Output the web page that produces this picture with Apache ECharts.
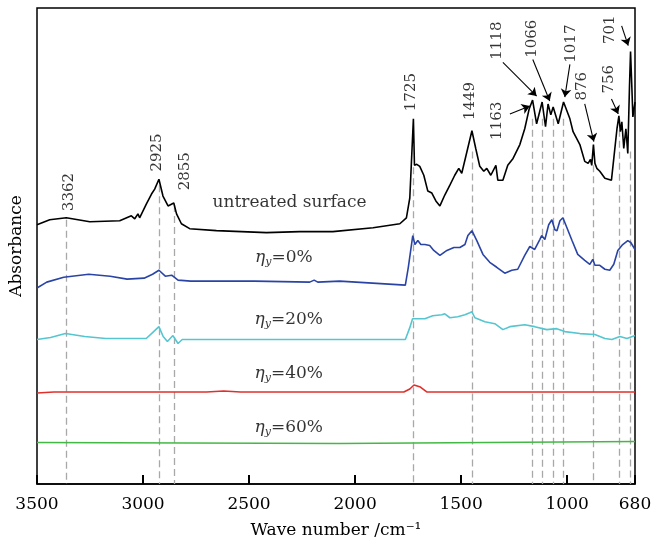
<!DOCTYPE html>
<html>
<head>
<meta charset="utf-8">
<script src="https://cdn.jsdelivr.net/npm/echarts@6/dist/echarts.min.js"></script>
<style>
  html, body { margin: 0; padding: 0; background: #fff; }
  #chart { width: 665px; height: 544px; }
</style>
</head>
<body>
<div id="chart"></div>
<script>
// wave number (cm^-1) vs absorbance (offset, a.u.)
var untreated = [
  [3500, 2.62], [3440, 2.67], [3362, 2.69], [3251, 2.65], [3110, 2.66], [3077, 2.69],
  [3055, 2.71], [3039, 2.68], [3024, 2.73], [3016, 2.69], [2984, 2.83], [2960, 2.93],
  [2945, 2.98], [2925, 3.08], [2906, 2.91], [2882, 2.81], [2855, 2.84], [2842, 2.73],
  [2819, 2.63], [2780, 2.58], [2654, 2.56], [2418, 2.54], [2261, 2.55], [2105, 2.55],
  [1915, 2.59], [1789, 2.63], [1758, 2.69], [1742, 2.89], [1725, 3.69], [1720, 3.22],
  [1709, 3.23], [1695, 3.21], [1676, 3.12], [1657, 2.96], [1638, 2.94], [1619, 2.86],
  [1600, 2.81], [1577, 2.92], [1553, 3.02], [1530, 3.12], [1511, 3.19], [1497, 3.14],
  [1478, 3.31], [1449, 3.57], [1431, 3.39], [1412, 3.21], [1393, 3.16], [1379, 3.19],
  [1360, 3.12], [1336, 3.22], [1327, 3.07], [1303, 3.07], [1280, 3.22], [1255, 3.29],
  [1223, 3.43], [1200, 3.59], [1179, 3.79], [1163, 3.88], [1144, 3.64], [1118, 3.86],
  [1102, 3.61], [1090, 3.84], [1077, 3.73], [1066, 3.81], [1042, 3.64], [1017, 3.86],
  [987, 3.69], [972, 3.56], [940, 3.43], [917, 3.26], [901, 3.24], [890, 3.28],
  [884, 3.22], [876, 3.43], [869, 3.24], [860, 3.19], [846, 3.16], [822, 3.09],
  [791, 3.07], [780, 3.29], [765, 3.59], [756, 3.72], [749, 3.56], [742, 3.66],
  [733, 3.39], [723, 3.59], [714, 3.34], [706, 4.02], [701, 4.37], [695, 4.02],
  [690, 3.71], [680, 3.86]
];
var eta0 = [
  [3500, 1.98], [3454, 2.04], [3374, 2.09], [3256, 2.12], [3155, 2.10], [3075, 2.07],
  [2995, 2.08], [2955, 2.12], [2925, 2.16], [2895, 2.10], [2865, 2.11], [2835, 2.06],
  [2775, 2.05], [2474, 2.05], [2214, 2.04], [2193, 2.06], [2176, 2.04], [2073, 2.05],
  [1763, 2.01], [1749, 2.19], [1728, 2.51], [1718, 2.42], [1704, 2.46], [1690, 2.42],
  [1671, 2.42], [1648, 2.41], [1629, 2.36], [1600, 2.31], [1567, 2.36], [1534, 2.39],
  [1506, 2.39], [1482, 2.42], [1468, 2.51], [1449, 2.56], [1426, 2.46], [1397, 2.32],
  [1365, 2.24], [1332, 2.19], [1294, 2.13], [1261, 2.16], [1233, 2.17], [1200, 2.31],
  [1176, 2.40], [1153, 2.37], [1129, 2.47], [1120, 2.51], [1105, 2.47], [1087, 2.62],
  [1072, 2.67], [1058, 2.57], [1048, 2.56], [1034, 2.66], [1020, 2.69], [1001, 2.59],
  [977, 2.46], [950, 2.32], [917, 2.26], [893, 2.22], [879, 2.27], [869, 2.21],
  [846, 2.21], [822, 2.17], [799, 2.16], [780, 2.22], [761, 2.36], [738, 2.42],
  [714, 2.46], [700, 2.44], [680, 2.37]
];
var eta20 = [
  [3500, 1.46], [3436, 1.48], [3366, 1.52], [3275, 1.49], [3176, 1.47], [2985, 1.47],
  [2955, 1.53], [2925, 1.59], [2905, 1.49], [2885, 1.44], [2859, 1.50], [2835, 1.42],
  [2815, 1.46], [2474, 1.46], [1763, 1.46], [1742, 1.58], [1729, 1.67], [1671, 1.67],
  [1634, 1.70], [1591, 1.71], [1577, 1.72], [1553, 1.68], [1516, 1.69], [1482, 1.71],
  [1459, 1.73], [1449, 1.74], [1435, 1.68], [1388, 1.64], [1341, 1.62], [1303, 1.56],
  [1270, 1.59], [1200, 1.61], [1153, 1.59], [1096, 1.56], [1049, 1.57], [1011, 1.54],
  [940, 1.52], [869, 1.51], [822, 1.47], [789, 1.46], [751, 1.49], [718, 1.47],
  [680, 1.50]
];
var eta40 = [
  [3500, 0.92], [3420, 0.93], [2700, 0.93], [2620, 0.94], [2540, 0.93], [1770, 0.93],
  [1742, 0.96], [1722, 1.00], [1692, 0.98], [1662, 0.93], [680, 0.93]
];
var eta60 = [
  [3500, 0.42], [2073, 0.41], [680, 0.43]
];

// assigned bands: wave number, top of the dashed guide
var bandPeaks = [3362, 2925, 2855, 1725, 1449, 1163, 1118, 1066, 1017, 876, 756, 701];
var bandTops = [2.67, 3.02, 2.82, 3.20, 3.36, 3.69, 3.69, 3.69, 3.69, 3.22, 3.69, 3.36];

// label centres for the band numbers
var bandLabels = [
  [3350, 2.95, '3362'], [2933, 3.35, '2925'], [2803, 3.16, '2855'], [1734, 3.96, '1725'],
  [1459, 3.87, '1449'], [1329, 3.67, '1163'], [1329, 4.48, '1118'], [1164, 4.50, '1066'],
  [979, 4.45, '1017'], [928, 4.02, '876'], [803, 4.09, '756'], [799, 4.59, '701']
];
// arrows: from label to peak
var arrows = [
  [[1270, 3.74], [1176, 3.82]],
  [[1303, 4.26], [1144, 3.92]],
  [[1162, 4.29], [1082, 3.87]],
  [[987, 4.24], [1011, 3.91]],
  [[917, 3.84], [874, 3.46]],
  [[791, 3.89], [759, 3.74]],
  [[743, 4.63], [712, 4.43]]
];

var curveNames = ['untreated surface', '0%', '20%', '40%', '60%'];
var curveLabelPos = [[2309, 2.84], [2336, 2.29], [2313, 1.66], [2313, 1.12], [2313, 0.57]];

var serif = 'DejaVu Serif';
var chart = echarts.init(document.getElementById('chart'));

function curve(name, data, color) {
  return {
    name: name, type: 'line', data: data, showSymbol: false, z: 3,
    lineStyle: { color: color, width: 1.6 }
  };
}

var option = {
  animation: false,
  backgroundColor: '#fff',
  grid: {
    left: 37, right: 30, top: 8, bottom: 55,
    show: true, borderColor: '#000', borderWidth: 1.5
  },
  xAxis: {
    type: 'value', min: 680, max: 3500, inverse: true,
    name: 'Wave number /cm⁻¹', nameLocation: 'middle', nameGap: 38,
    nameTextStyle: { fontFamily: serif, fontSize: 17, color: '#000' },
    axisLine: { show: true, lineStyle: { color: '#000', width: 1.5 } },
    splitLine: { show: false },
    axisTick: {
      show: true, inside: true, length: 9,
      lineStyle: { color: '#000', width: 2 }
    },
    axisLabel: {
      showMinLabel: true, showMaxLabel: true, margin: 12,
      fontFamily: serif, fontSize: 17, color: '#000',
      formatter: function (v) { return String(v); }
    }
  },
  yAxis: {
    type: 'value', min: 0, max: 4.81,
    name: 'Absorbance', nameLocation: 'middle', nameGap: 12,
    nameTextStyle: { fontFamily: serif, fontSize: 17, color: '#000' },
    axisLine: { show: false }, axisTick: { show: false },
    axisLabel: { show: false }, splitLine: { show: false }
  },
  series: [
    {
      type: 'lines', coordinateSystem: 'cartesian2d', z: 1, silent: true,
      data: bandPeaks.map(function (w, i) {
        return { coords: [[w, bandTops[i]], [w, 0]] };
      }),
      lineStyle: { color: '#a8a8a8', width: 1.3, type: [7, 4], opacity: 1 }
    },
    curve('untreated surface', untreated, '#000000'),
    curve('0%', eta0, '#2a44a6'),
    curve('20%', eta20, '#55c6d0'),
    curve('40%', eta40, '#e0302c'),
    curve('60%', eta60, '#44b845'),
    {
      type: 'lines', coordinateSystem: 'cartesian2d', z: 4, silent: true,
      symbol: ['none', 'arrow'], symbolSize: 8,
      data: arrows.map(function (a) { return { coords: a }; }),
      lineStyle: { color: '#000', width: 1.1, opacity: 1 }
    },
    {
      type: 'scatter', z: 5, symbolSize: 1, silent: true,
      itemStyle: { color: 'rgba(0,0,0,0)' },
      data: bandLabels,
      label: {
        show: true, position: 'inside', rotate: 90,
        align: 'center', verticalAlign: 'middle',
        fontFamily: serif, fontSize: 15, color: '#000',
        formatter: function (p) { return p.data[2]; }
      }
    },
    {
      type: 'scatter', z: 5, symbolSize: 1, silent: true,
      itemStyle: { color: 'rgba(0,0,0,0)' },
      data: curveLabelPos.map(function (p, i) { return [p[0], p[1], curveNames[i]]; }),
      label: {
        show: true, position: 'inside', color: '#000',
        fontFamily: serif, fontSize: 17,
        formatter: function (p) {
          if (p.dataIndex === 0) return p.data[2];
          return '{e|η}{s|y}{t|=' + p.data[2] + '}';
        },
        rich: {
          e: { fontFamily: serif, fontStyle: 'italic', fontSize: 17, color: '#000' },
          s: { fontFamily: serif, fontStyle: 'italic', fontSize: 11, color: '#000',
               verticalAlign: 'bottom', padding: [9, 0, 0, 0] },
          t: { fontFamily: serif, fontSize: 17, color: '#000' }
        }
      }
    }
  ]
};
chart.setOption(option);
</script>
</body>
</html>
